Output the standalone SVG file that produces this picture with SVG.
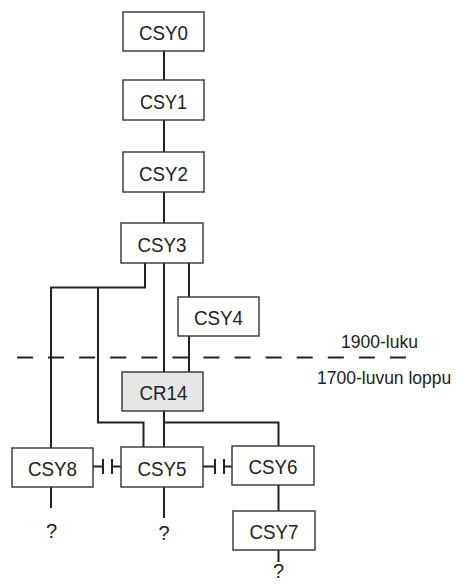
<svg xmlns="http://www.w3.org/2000/svg" width="457" height="584" viewBox="0 0 457 584">
<style>
.box{fill:#fff;stroke:#333;stroke-width:1.4}
.gray{fill:#e6e6e6}
.lbl{font-family:"Liberation Sans",Arial,sans-serif;font-size:21px;fill:#222;text-anchor:middle}
.q{font-family:"Liberation Sans",Arial,sans-serif;font-size:20px;fill:#222;text-anchor:middle}
.per{font-family:"Liberation Sans",Arial,sans-serif;font-size:17.5px;fill:#222}
.ln{fill:none;stroke:#222;stroke-width:2}
</style>
<rect width="457" height="584" fill="#fff"/>
<g id="connectors">
<path class="ln" d="M164 51V80M164 120V152M164 192V223M164 263V372M164 411V447"/>
<path class="ln" d="M189 263V297M189 336V372"/>
<path class="ln" d="M145 263V287.5H51V448M98 287.5V422.5H143.5V447"/>
<path class="ln" d="M164 422.5H278.5V446M278.5 485V511M278.5 550V562"/>
<path class="ln" d="M51 487V508M164 487V518"/>
<path class="ln" d="M93 466.5H103M103 459V474M112 459V474M112 466.5H121"/>
<path class="ln" d="M203 466.5H215M215 459V474M224 459V474M224 466.5H232"/>
<path class="ln" d="M17 357.5H406" stroke-dasharray="16 15.08"/>
</g>
<g id="CSY0"><rect class="box" x="123" y="12" width="81" height="39"/><text class="lbl" x="163.5" y="40" textLength="49" lengthAdjust="spacingAndGlyphs">CSY0</text></g>
<g id="CSY1"><rect class="box" x="123" y="80" width="81" height="40"/><text class="lbl" x="163.5" y="108.5" textLength="47" lengthAdjust="spacingAndGlyphs">CSY1</text></g>
<g id="CSY2"><rect class="box" x="123" y="152" width="81" height="40"/><text class="lbl" x="163.5" y="180.5" textLength="49" lengthAdjust="spacingAndGlyphs">CSY2</text></g>
<g id="CSY3"><rect class="box" x="121" y="223" width="82" height="40"/><text class="lbl" x="162" y="251.5" textLength="49" lengthAdjust="spacingAndGlyphs">CSY3</text></g>
<g id="CSY4"><rect class="box" x="178" y="297" width="81" height="39"/><text class="lbl" x="218.5" y="325" textLength="49" lengthAdjust="spacingAndGlyphs">CSY4</text></g>
<g id="CR14"><rect class="box gray" x="122" y="372" width="81" height="39"/><text class="lbl" x="163.5" y="400" textLength="48" lengthAdjust="spacingAndGlyphs">CR14</text></g>
<g id="CSY8"><rect class="box" x="12" y="448" width="81" height="39"/><text class="lbl" x="52.5" y="476" textLength="49" lengthAdjust="spacingAndGlyphs">CSY8</text></g>
<g id="CSY5"><rect class="box" x="121" y="447" width="82" height="40"/><text class="lbl" x="162" y="475.5" textLength="49" lengthAdjust="spacingAndGlyphs">CSY5</text></g>
<g id="CSY6"><rect class="box" x="232" y="446" width="82" height="39"/><text class="lbl" x="273" y="474" textLength="49" lengthAdjust="spacingAndGlyphs">CSY6</text></g>
<g id="CSY7"><rect class="box" x="233" y="511" width="82" height="39"/><text class="lbl" x="274" y="539" textLength="49" lengthAdjust="spacingAndGlyphs">CSY7</text></g>
<g id="labels">
<text class="q" x="51.5" y="538">?</text>
<text class="q" x="164" y="540">?</text>
<text class="q" x="278.5" y="578">?</text>
<text class="per" x="341" y="347.5">1900-luku</text>
<text class="per" x="317" y="383.5">1700-luvun loppu</text>
</g>
</svg>
